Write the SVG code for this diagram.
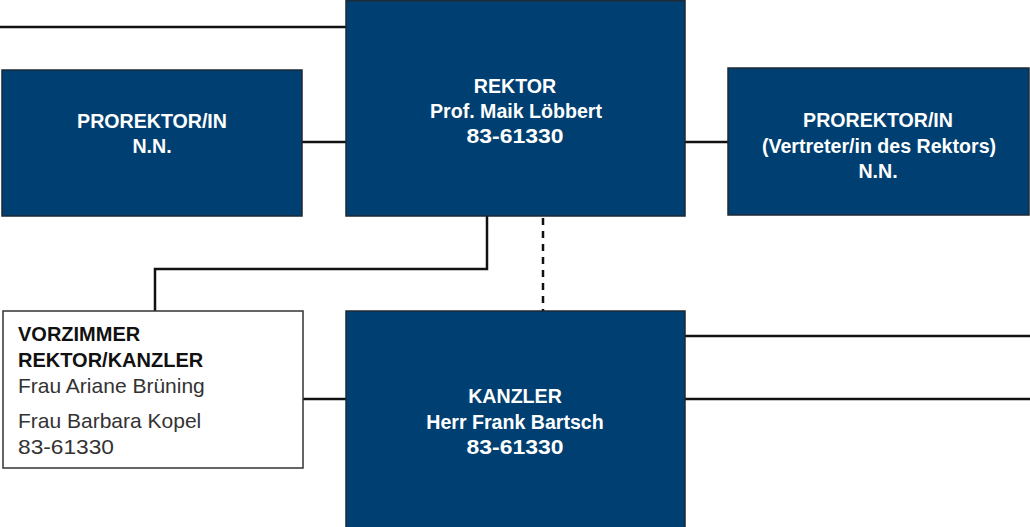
<svg xmlns="http://www.w3.org/2000/svg" width="1030" height="527" viewBox="0 0 1030 527">
<style>
.box{fill:#003f71;stroke:#1e2a36;stroke-width:1.5}
.wbox{fill:#ffffff;stroke:#333333;stroke-width:1.5}
.ln{fill:none;stroke:#111111;stroke-width:2.5}
.dash{fill:none;stroke:#111111;stroke-width:2.5;stroke-dasharray:7 6}
.t{font-family:"Liberation Sans",Arial,sans-serif;font-size:19.6px;font-weight:bold;fill:#ffffff;text-anchor:middle}
.tb{font-family:"Liberation Sans",Arial,sans-serif;font-size:20px;font-weight:bold;fill:#111111}
.tr{font-family:"Liberation Sans",Arial,sans-serif;font-size:21px;fill:#333333}
</style>
<rect width="1030" height="527" fill="#ffffff"/>
<g id="connectors">
<line class="ln" x1="0" y1="27" x2="346" y2="27"/>
<line class="ln" x1="302" y1="142" x2="346" y2="142"/>
<line class="ln" x1="685" y1="142" x2="728" y2="142"/>
<polyline class="ln" points="487,216 487,269 155,269 155,311"/>
<line class="dash" x1="543" y1="218" x2="543" y2="311"/>
<line class="ln" x1="303" y1="399" x2="346" y2="399"/>
<line class="ln" x1="685" y1="336" x2="1030" y2="336"/>
<line class="ln" x1="685" y1="399" x2="1030" y2="399"/>
</g>
<g id="prorektor-left">
<rect class="box" x="2" y="70" width="300" height="146"/>
<text class="t" x="152" y="128">PROREKTOR/IN</text>
<text class="t" x="152" y="153">N.N.</text>
</g>
<g id="rektor">
<rect class="box" x="346" y="0.75" width="339" height="215.25"/>
<text class="t" x="515" y="93">REKTOR</text>
<text class="t" x="516" y="118">Prof. Maik Löbbert</text>
<text class="t" x="515" y="143" textLength="97" lengthAdjust="spacingAndGlyphs">83-61330</text>
</g>
<g id="prorektor-right">
<rect class="box" x="728" y="68" width="301" height="147"/>
<text class="t" x="878" y="127">PROREKTOR/IN</text>
<text class="t" x="879" y="153">(Vertreter/in des Rektors)</text>
<text class="t" x="878" y="178">N.N.</text>
</g>
<g id="vorzimmer">
<rect class="wbox" x="3" y="311" width="300" height="157"/>
<text class="tb" x="18" y="341">VORZIMMER</text>
<text class="tb" x="18" y="367">REKTOR/KANZLER</text>
<text class="tr" x="18" y="393">Frau Ariane Brüning</text>
<text class="tr" x="18" y="428">Frau Barbara Kopel</text>
<text class="tr" x="18" y="454" textLength="96" lengthAdjust="spacingAndGlyphs">83-61330</text>
</g>
<g id="kanzler">
<rect class="box" x="346" y="311" width="339" height="218"/>
<text class="t" x="515" y="403">KANZLER</text>
<text class="t" x="515" y="429">Herr Frank Bartsch</text>
<text class="t" x="515" y="454" textLength="97" lengthAdjust="spacingAndGlyphs">83-61330</text>
</g>
</svg>
